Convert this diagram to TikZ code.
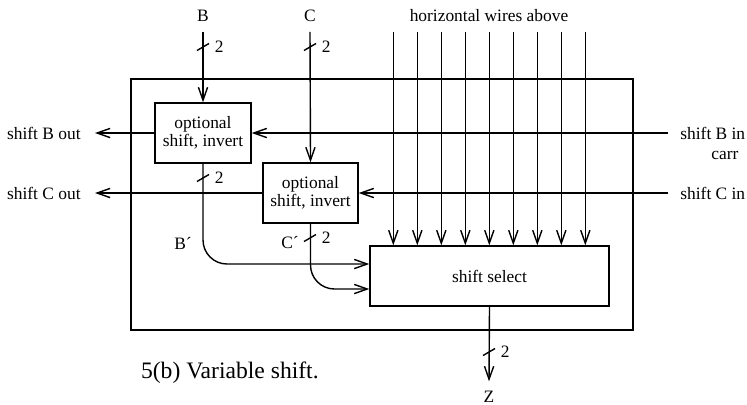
\documentclass[tikz,border=0pt]{standalone}
\usepackage{fontspec}
\setmainfont{Liberation Serif}
\usetikzlibrary{arrows.meta,positioning}

\begin{document}
\begin{tikzpicture}[
        x=0.5pt,y=-0.5pt,
        every node/.style={font=\fontsize{8.7}{9.2}\selectfont},
        wire/.style={draw=black,line width=0.7pt},
        arr/.style={wire,-{Straight Barb[length=6.5pt,width=4.6pt]}},
        blk/.style={draw=black,line width=0.7pt,align=center,minimum height=30pt,inner sep=1pt},
        term/.style={inner sep=3pt,outer sep=2pt},
        bus/.pic={\draw[wire] (-6,3.5)--(6,-3.5); \node[anchor=west,inner sep=0] at (11.5,0) {2};}]
        \useasboundingbox (0,0) rectangle (747,404);
        \node[draw,line width=0.7pt,minimum width=251pt,minimum height=125.5pt,inner sep=0,outer sep=0] (chip) at (382,204.5) {};
        \node[blk,minimum width=48pt] (opt1) at (203,133) {optional\\shift, invert};
        \node[blk,minimum width=47.5pt] (opt2) at (310.5,193) {optional\\shift, invert};
        \node[blk,minimum width=119.5pt] (sel) at (489.5,276) {shift select};
        \node[term] (B) at (203,16) {B};
        \node[term] (C) at (310,16) {C};
        \node[term] (hw) at (489,16) {horizontal wires above};
        \node[term] (Z) at (489,397) {Z};
        \node[anchor=east,inner xsep=7pt] (Bout) at (95,133) {shift B out};
        \node[anchor=east,inner xsep=7pt] (Cout) at (95,193) {shift C out};
        \node[anchor=west,inner xsep=6pt] (Bin) at (668,133) {shift B in};
        \node[anchor=west,inner sep=0] (carr) at (711,155) {carr};
        \node[anchor=west,inner xsep=6pt] (Cin) at (668,193) {shift C in};
        \node (Bp) at (183,243) {B´};
        \node (Cp) at (290,243) {C´};
        \node[anchor=west,font=\fontsize{11.8}{14}\selectfont] (cap) at (134,373) {5(b) Variable shift.};
        \draw[arr] (B.south) -- (opt1.north);
        \draw[arr] (C.south) -- (opt2.north);
        \draw[arr] (Bin.west) -- (opt1.east);
        \draw[arr] (opt1.west) -- (Bout.east);
        \draw[arr] (Cin.west) -- (opt2.east);
        \draw[arr] (opt2.west) -- (Cout.east);
        \draw[arr,rounded corners=12pt] (opt1.south) |- (sel.west |- 0,264);
        \draw[arr,rounded corners=12pt] (opt2.south) |- (sel.west |- 0,289);
        \draw[arr] (sel.south) -- (Z.north);
        \foreach \k in {-4,...,4}{
          \coordinate (w\k) at ({489.3+24*\k},32);
          \draw[arr] (w\k) -- (w\k |- sel.north);
        }
        \pic at (203,47) {bus};
        \pic at (310,47) {bus};
        \pic at (203,178) {bus};
        \pic at (310,238) {bus};
        \pic at (489,352) {bus};
      \end{tikzpicture}
\end{document}
